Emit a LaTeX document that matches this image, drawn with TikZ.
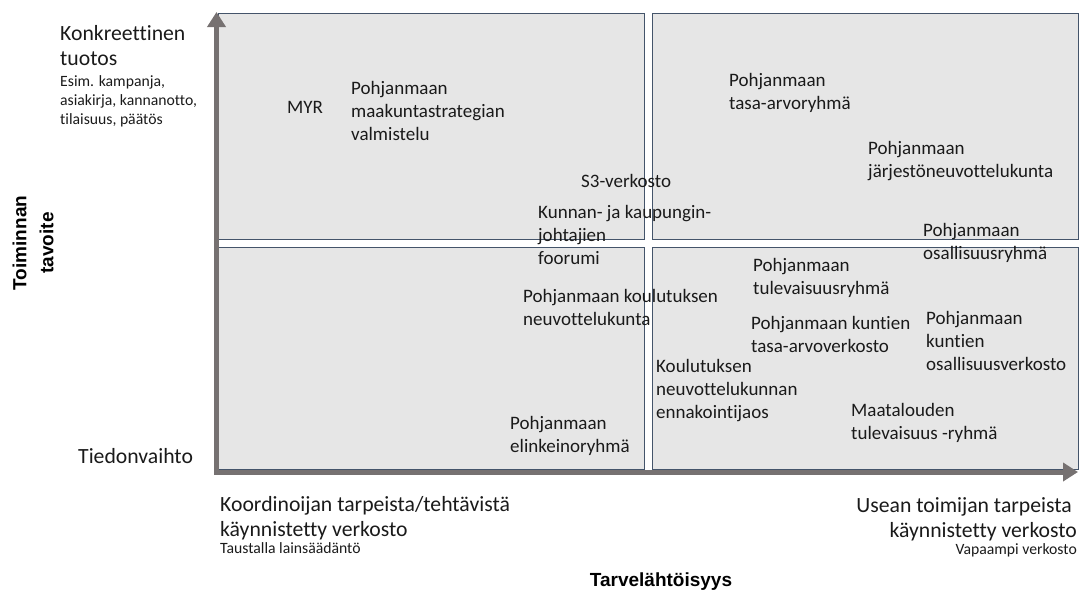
\documentclass[tikz,border=0pt]{standalone}
\usepackage{fontspec}
\setmainfont{Carlito}[Ligatures=NoCommon]
\newfontfamily\axisfont{Liberation Sans}
\usetikzlibrary{arrows.meta}
\definecolor{boxfill}{HTML}{E6E6E6}
\definecolor{boxline}{HTML}{44546A}
\definecolor{axisgray}{HTML}{767171}
\definecolor{txt}{HTML}{1A1A1A}
\tikzset{
  quad/.style={draw=boxline, line width=0.9pt, fill=boxfill},
  axis/.style={draw=axisgray, line width=5pt, -{Triangle[length=15pt,width=18pt]}},
  item/.style={anchor=north west, inner sep=0pt, align=left, text=txt, font=\fontsize{19}{23}\selectfont},
  big/.style={inner sep=0pt, text=txt, font=\fontsize{21.7}{25.5}\selectfont},
  small/.style={inner sep=0pt, text=txt, font=\fontsize{15.7}{19}\selectfont},
  axlabel/.style={inner sep=0pt, text=black, font=\axisfont\bfseries\fontsize{19}{27}\selectfont}
}
\begin{document}
\begin{tikzpicture}[x=1pt,y=-1pt]
\useasboundingbox (0,0) rectangle (1081,592);
% quadrants
\path[quad] (218,13) rectangle (644,239);
\path[quad] (652,13) rectangle (1078,239);
\path[quad] (218,247) rectangle (644,469);
\path[quad] (652,247) rectangle (1078,469);
% axes
\coordinate (ybase) at (216.5,474.5);
\coordinate (ytop) at (216.5,12);
\coordinate (xbase) at (214,472);
\coordinate (xend) at (1078,472);
\draw[axis] (ybase) -- (ytop);
\draw[axis] (xbase) -- (xend);
% items
\node[item] (myr) at (287,101) {MYR};
\node[item] (mks) at (351,81) {Pohjanmaan\\maakuntastrategian\\valmistelu};
\node[item] (s3) at (581,174) {S3-verkosto};
\node[item] (kkj) at (538,205) {Kunnan- ja kaupungin-\\johtajien\\foorumi};
\node[item] (taa) at (729,73) {Pohjanmaan\\tasa-arvoryhmä};
\node[item] (jnk) at (868,141) {Pohjanmaan\\järjestöneuvottelukunta};
\node[item] (osr) at (923,223) {Pohjanmaan\\osallisuusryhmä};
\node[item] (tlr) at (753,258) {Pohjanmaan\\tulevaisuusryhmä};
\node[item] (knk) at (523,289) {Pohjanmaan koulutuksen\\neuvottelukunta};
\node[item] (kta) at (751,316) {Pohjanmaan kuntien\\tasa-arvoverkosto};
\node[item] (kos) at (926,311) {Pohjanmaan\\kuntien\\osallisuusverkosto};
\node[item] (kne) at (656,359) {Koulutuksen\\neuvottelukunnan\\ennakointijaos};
\node[item] (mtr) at (851,403) {Maatalouden\\tulevaisuus -ryhmä};
\node[item] (elr) at (510,416) {Pohjanmaan\\elinkeinoryhmä};
% corner labels
\node[big, anchor=north west, align=left] (konk) at (60,25) {Konkreettinen\\tuotos};
\node[small, anchor=north west, align=left] (esim) at (60,75) {Esim. kampanja,\\asiakirja, kannanotto,\\tilaisuus, päätös};
\node[big, anchor=north west] (tied) at (78,448) {Tiedonvaihto};
\node[big, anchor=north west, align=left] (koord) at (220,496) {Koordinoijan tarpeista/tehtävistä\\käynnistetty verkosto};
\node[small, anchor=north west] (taus) at (220,542) {Taustalla lainsäädäntö};
\node[big, anchor=north east, align=right] (usean) at (1077,497) {Usean toimijan tarpeista\hspace*{5pt}\\käynnistetty verkosto};
\node[small, anchor=north east] (vapa) at (1077,543) {Vapaampi verkosto};
% axis labels
\node[axlabel, anchor=base] (tarve) at (661,586) {Tarvelähtöisyys};
\node[axlabel, rotate=90, align=center] (toim) at (33,243) {Toiminnan\\tavoite};
\end{tikzpicture}
\end{document}
